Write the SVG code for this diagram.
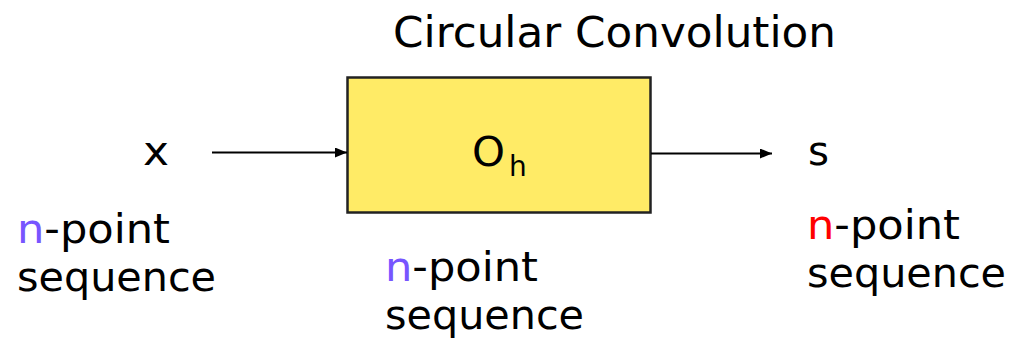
<svg xmlns="http://www.w3.org/2000/svg" width="1012" height="350" viewBox="0 0 1012 350">
<defs>
<marker id="ah" markerWidth="12" markerHeight="10" refX="12" refY="5" orient="auto" markerUnits="userSpaceOnUse">
<path d="M0,0 L12,5 L0,10 Z" fill="#000"/>
</marker>
<style>
.t{font-family:"Comic Sans MS","DejaVu Sans",sans-serif;font-size:40px;fill:#000}
.p{fill:#7755FF}
.r{fill:#FF0000}
.c{stroke:#000;stroke-width:2;fill:none}
</style>
</defs>
<rect width="1012" height="350" fill="#fff"/>
<text class="t" x="393" y="47" textLength="443" lengthAdjust="spacingAndGlyphs" style="font-size:43px">Circular Convolution</text>
<g id="box">
<rect x="347.5" y="77.5" width="303" height="135" fill="#FFEB66" stroke="#222" stroke-width="2.5"/>
<text class="t" x="472" y="166" textLength="33" lengthAdjust="spacingAndGlyphs">O</text>
<text class="t" x="509" y="176" style="font-size:28px">h</text>
</g>
<g id="input">
<text class="t" x="143" y="165" textLength="26" lengthAdjust="spacingAndGlyphs">x</text>
<text class="t" x="17" y="243" textLength="153" lengthAdjust="spacingAndGlyphs"><tspan class="p">n</tspan>-point</text>
<text class="t" x="17" y="291" textLength="199" lengthAdjust="spacingAndGlyphs">sequence</text>
</g>
<g id="kernel">
<text class="t" x="385" y="281" textLength="153" lengthAdjust="spacingAndGlyphs"><tspan class="p">n</tspan>-point</text>
<text class="t" x="385" y="329" textLength="199" lengthAdjust="spacingAndGlyphs">sequence</text>
</g>
<g id="output">
<text class="t" x="808" y="165" textLength="21" lengthAdjust="spacingAndGlyphs">s</text>
<text class="t" x="807" y="239" textLength="153" lengthAdjust="spacingAndGlyphs"><tspan class="r">n</tspan>-point</text>
<text class="t" x="807" y="287" textLength="199" lengthAdjust="spacingAndGlyphs">sequence</text>
</g>
<g id="connectors">
<line class="c" x1="212" y1="152.5" x2="347" y2="152.5" marker-end="url(#ah)"/>
<line class="c" x1="651" y1="153.5" x2="772" y2="153.5" marker-end="url(#ah)"/>
</g>
</svg>
